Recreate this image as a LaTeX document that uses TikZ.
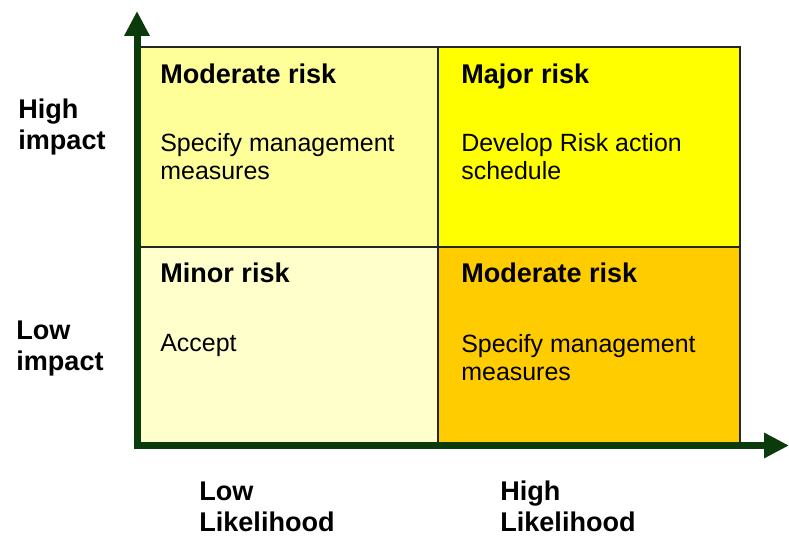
\documentclass[tikz,border=0pt]{standalone}
\usepackage{fontspec}
\setmainfont{Liberation Sans}
\usepackage{tikz}
\usetikzlibrary{arrows.meta}
\usepackage{xcolor}

\definecolor{axisgreen}{HTML}{0B3A0B}
\definecolor{cellTL}{HTML}{FFFF99}
\definecolor{cellTR}{HTML}{FFFF00}
\definecolor{cellBL}{HTML}{FFFFCC}
\definecolor{cellBR}{HTML}{FFCC00}

\tikzset{
	cell/.style={draw=black!85, line width=0.035cm},
	head/.style={anchor=base west, inner sep=0pt, font=\fontsize{15.4}{18}\selectfont\bfseries},
	body/.style={anchor=base west, inner sep=0pt, align=left, font=\fontsize{14.2}{16.5}\selectfont},
	axislabel/.style={anchor=base west, inner sep=0pt, align=left, font=\fontsize{15.4}{18.2}\selectfont\bfseries},
	axis/.style={axisgreen, line width=7*0.02cm, -{Triangle[length=0.5cm, width=0.48cm]}}
}

\begin{document}
\begin{tikzpicture}[x=0.02cm, y=-0.02cm]
		\useasboundingbox (0, 0) rectangle (789, 536);
		\fill[white] (0, 0) rectangle (789, 536);
		% cells
		\draw[cell, fill=cellTL] (137, 47) rectangle (438, 247);
		\draw[cell, fill=cellTR] (438, 47) rectangle (740, 247);
		\draw[cell, fill=cellBL] (137, 247) rectangle (438, 446);
		\draw[cell, fill=cellBR] (438, 247) rectangle (740, 446);
		% axes
		\coordinate (origin) at (137, 449);
		\coordinate (ytip) at (137, 11);
		\coordinate (xorigin) at (134, 445.5);
		\coordinate (xtip) at (789, 445.5);
		\draw[axis] (origin) -- (ytip);
		\draw[axis] (xorigin) -- (xtip);
		% cell texts (multi-line nodes sit on their last line)
		\node[head] (tlhead) at (160, 84) {Moderate risk};
		\node[body] (tlbody) at (160, 180) {Specify management\\measures};
		\node[head] (trhead) at (461, 84) {Major risk};
		\node[body] (trbody) at (461, 180) {Develop Risk action\\schedule};
		\node[head] (blhead) at (160, 283) {Minor risk};
		\node[body] (blbody) at (160, 352) {Accept};
		\node[head] (brhead) at (461, 283) {Moderate risk};
		\node[body] (brbody) at (461, 381) {Specify management\\measures};
		% axis labels
		\node[axislabel] (highimp) at (18, 150) {High\\impact};
		\node[axislabel] (lowimp) at (16, 371) {Low\\impact};
		\node[axislabel] (lowlik) at (199, 532) {Low\\Likelihood};
		\node[axislabel] (highlik) at (500, 532) {High\\Likelihood};
	\end{tikzpicture}
\end{document}
